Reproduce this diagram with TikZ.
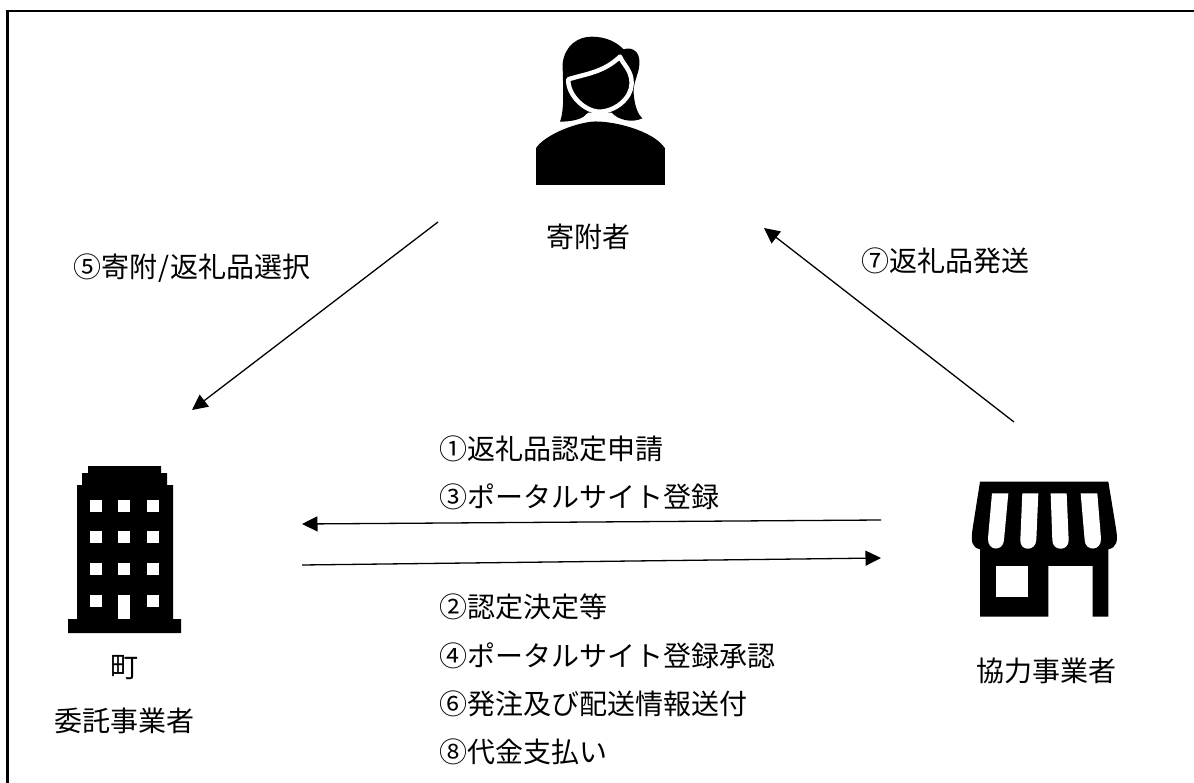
\documentclass[tikz,border=0pt]{standalone}
\usepackage{fontspec}
\setmainfont{Noto Sans CJK JP}
\usetikzlibrary{arrows.meta}
\tikzset{
  lbl/.style={anchor=west,inner sep=0pt,outer sep=0pt,font=\fontsize{28}{34}\selectfont,text=black},
  clbl/.style={anchor=center,inner sep=0pt,outer sep=0pt,font=\fontsize{28}{34}\selectfont,text=black},
  flow/.style={line width=1.3pt,black,-{Triangle[length=15.5pt,width=15pt]}},
  frameline/.style={line width=2.4pt,black,line cap=butt,line join=miter},
  zoomed/.style={x=0.3333pt,y=-0.3333pt}
}
\begin{document}
\begin{tikzpicture}[x=1pt,y=-1pt]
\useasboundingbox (0,0) rectangle (1194,783);
\fill[white] (0,0) rectangle (1194,783);
\draw[frameline] (7.5,783) -- (7.5,11) -- (1194,11);

% person
\begin{scope}[shift={(510,20)},zoomed]
\fill (150,305) .. controls (165,265) and (158,190) .. (158,130)
  .. controls (165,75) and (205,50) .. (245,50)
  .. controls (285,50) and (320,65) .. (340,88)
  .. controls (355,82) and (385,85) .. (388,120)
  .. controls (392,160) and (365,185) .. (372,230)
  .. controls (375,260) and (385,285) .. (397,295)
  .. controls (365,310) and (325,300) .. (305,278)
  -- (235,278)
  .. controls (220,298) and (185,305) .. (150,305) -- cycle;
\filldraw[draw=white,line width=4.5pt,fill=black,line join=round]
  (175,178) .. controls (225,162) and (280,158) .. (330,110)
  .. controls (340,135) and (365,150) .. (365,190)
  .. controls (365,235) and (315,275) .. (268,275)
  .. controls (225,275) and (172,225) .. (175,178) -- cycle;
\fill[white] (232,280) -- (305,280) -- (330,306) -- (205,306) -- cycle;
\fill (78,495) -- (78,385) .. controls (95,355) and (170,315) .. (245,305)
  .. controls (300,300) and (430,330) .. (465,385) -- (465,495) -- cycle;
\end{scope}

% building
\fill (88,466) -- (161,466) -- (161,473) -- (167,473) -- (167,485) -- (173,485)
  -- (173,619) -- (181,619) -- (181,633) -- (68,633) -- (68,619) -- (77,619)
  -- (77,485) -- (82,485) -- (82,473) -- (88,473) -- cycle;
\foreach \wx in {90.3,118.3,146.5}{
  \foreach \wy in {499.7,531.3,563.3}{
    \fill[white] (\wx,\wy) rectangle ++(12,12);
  }
}
\fill[white] (90.3,595.3) rectangle ++(12,12);
\fill[white] (146.5,595.3) rectangle ++(12,12);
\fill[white] (118.3,595.3) rectangle (130.3,619);

% shop
\begin{scope}[shift={(930,470)},zoomed]
\fill (150,35) -- (535,35) -- (558,175)
  .. controls (565,215) and (560,232) .. (535,238)
  -- (535,440) -- (488,440) -- (488,288) -- (355,288) -- (355,440) -- (150,440) -- (150,238)
  .. controls (125,232) and (122,215) .. (128,175) -- cycle;
\fill[white] (198,288) rectangle (295,381);
\fill[white] (186,70) -- (235,70) -- (222,210)
  .. controls (220,245) and (172,245) .. (174,205)
  -- cycle;
\fill[white] (277,70) -- (325,70) -- (319,210)
  .. controls (317,245) and (269,245) .. (271,210) -- cycle;
\fill[white] (362,70) -- (410,70) -- (416,210)
  .. controls (417,245) and (367,245) .. (367,210) -- cycle;
\fill[white] (452,70) -- (502,70) -- (513,205)
  .. controls (515,245) and (465,245) .. (464,210) -- cycle;
\end{scope}

% labels
\node[clbl] (donor) at (588,237) {寄附者};
\node[lbl] (l5) at (73,268) {⑤寄附\kern1.5pt/\kern1.5pt返礼品選択};
\node[lbl] (l7) at (861,261) {⑦返礼品発送};
\node[lbl] (l1) at (439,449) {①返礼品認定申請};
\node[lbl] (l3) at (439,497) {③ポータルサイト登録};
\node[lbl] (l2) at (439,607) {②認定決定等};
\node[lbl] (l4) at (439,656) {④ポータルサイト登録承認};
\node[lbl] (l6) at (439,704) {⑥発注及び配送情報送付};
\node[lbl] (l8) at (439,752) {⑧代金支払い};
\node[clbl] (town) at (124,668) {町};
\node[clbl] (agent) at (124,721) {委託事業者};
\node[clbl] (partner) at (1046,671) {協力事業者};

% connectors
\coordinate (a5s) at (438,222); \coordinate (a5e) at (192,410);
\coordinate (a7s) at (1014,422); \coordinate (a7e) at (764,228);
\coordinate (a1s) at (881,520); \coordinate (a1e) at (302,524);
\coordinate (a2s) at (302,565); \coordinate (a2e) at (881,558);
\draw[flow] (a5s) -- (a5e);
\draw[flow] (a7s) -- (a7e);
\draw[flow] (a1s) -- (a1e);
\draw[flow] (a2s) -- (a2e);
\end{tikzpicture}
\end{document}
